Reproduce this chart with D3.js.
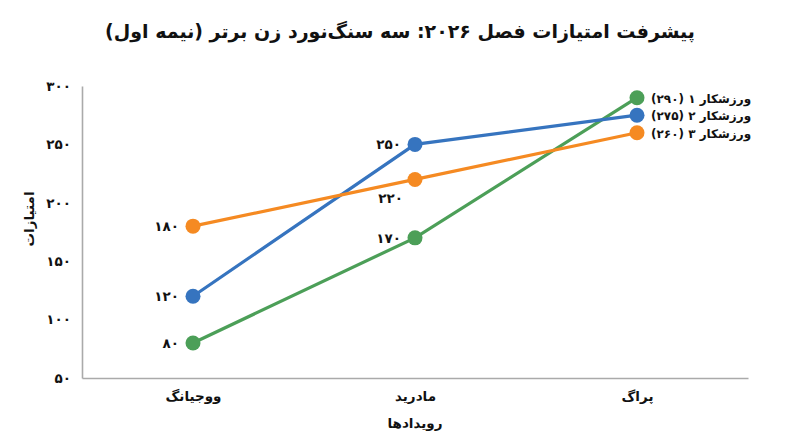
<!DOCTYPE html>
<html><head><meta charset="utf-8">
<script src="https://cdn.jsdelivr.net/npm/d3@7"></script>
<style>body{margin:0;background:#fff;} svg{display:block;font-family:"DejaVu Sans",sans-serif;}</style>
</head><body>
<svg id="c" width="800" height="447"></svg>
<script>
const categories = ["ووجیانگ", "مادرید", "پراگ"];
const seriesNames = ["ورزشکار ۱", "ورزشکار ۲", "ورزشکار ۳"];
const athlete1 = [80, 170, 290];
const athlete2 = [120, 250, 275];
const athlete3 = [180, 220, 260];
const colors = ["#4c9f58", "#3674bf", "#f58a22"];
const yTicks = [50, 100, 150, 200, 250, 300];
const title = "پیشرفت امتیازات فصل ۲۰۲۶: سه سنگ‌نورد زن برتر (نیمه اول)";
const xTitle = "رویدادها";
const yTitle = "امتیازات";

const fa = s => String(s).replace(/\d/g, d => "۰۱۲۳۴۵۶۷۸۹"[d]);
const series = [athlete1, athlete2, athlete3].map((v, i) => ({name: seriesNames[i], values: v, color: colors[i]}));

const svg = d3.select("#c");
const x = d3.scalePoint().domain(categories).range([82, 748]).padding(0.5);
const y = d3.scaleLinear().domain([50, 300]).range([378, 86]);

svg.append("text").attr("x", 400).attr("y", 38).attr("text-anchor", "middle")
  .attr("direction", "rtl").attr("font-size", 19).attr("font-weight", "bold").attr("fill", "#111").text(title);

// axes
const yAxis = svg.append("g").attr("transform", "translate(82,0)")
  .call(d3.axisLeft(y).tickValues(yTicks).tickSize(0).tickPadding(11).tickFormat(fa));
const xAxis = svg.append("g").attr("transform", "translate(0,378)")
  .call(d3.axisBottom(x).tickSize(0).tickPadding(13));
[yAxis, xAxis].forEach(a => {
  a.select(".domain").attr("stroke", "#aaa").attr("stroke-width", 1.6);
  a.selectAll("text").attr("font-size", 13.5).attr("font-weight", "bold").attr("fill", "#111").attr("font-family", "DejaVu Sans");
});

svg.append("text").attr("transform", "translate(34,219) rotate(-90)").attr("text-anchor", "middle")
  .attr("font-size", 13.5).attr("font-weight", "bold").attr("fill", "#111").text(yTitle);
svg.append("text").attr("x", 415).attr("y", 428).attr("text-anchor", "middle")
  .attr("font-size", 13.5).attr("font-weight", "bold").attr("fill", "#111").text(xTitle);

const line = d3.line().x((d, i) => x(categories[i])).y(d => y(d));
series.forEach(s => {
  svg.append("path").attr("d", line(s.values)).attr("fill", "none").attr("stroke", s.color).attr("stroke-width", 3.2);
});
series.forEach(s => {
  svg.selectAll(null).data(s.values).enter().append("circle")
    .attr("cx", (d, i) => x(categories[i])).attr("cy", d => y(d)).attr("r", 7.5).attr("fill", s.color);
});

// value labels at first two categories
series.forEach((s, si) => {
  s.values.slice(0, 2).forEach((v, i) => {
    const below = (i === 1 && si === 2);
    svg.append("text")
      .attr("x", x(categories[i]) - (below ? 12 : 14))
      .attr("y", y(v) + (below ? 24 : 5))
      .attr("text-anchor", "end").attr("font-size", 13.5).attr("font-weight", "bold").attr("fill", "#111")
      .text(fa(v));
  });
  const last = s.values.length - 1;
  svg.append("text")
    .attr("x", x(categories[last]) + 14)
    .attr("y", y(s.values[last]) + 5)
    .attr("direction", "rtl").attr("text-anchor", "end")
    .attr("font-size", 12).attr("font-weight", "bold").attr("fill", "#111")
    .text(s.name + " (" + fa(s.values[last]) + ")");
});
</script>
</body></html>
